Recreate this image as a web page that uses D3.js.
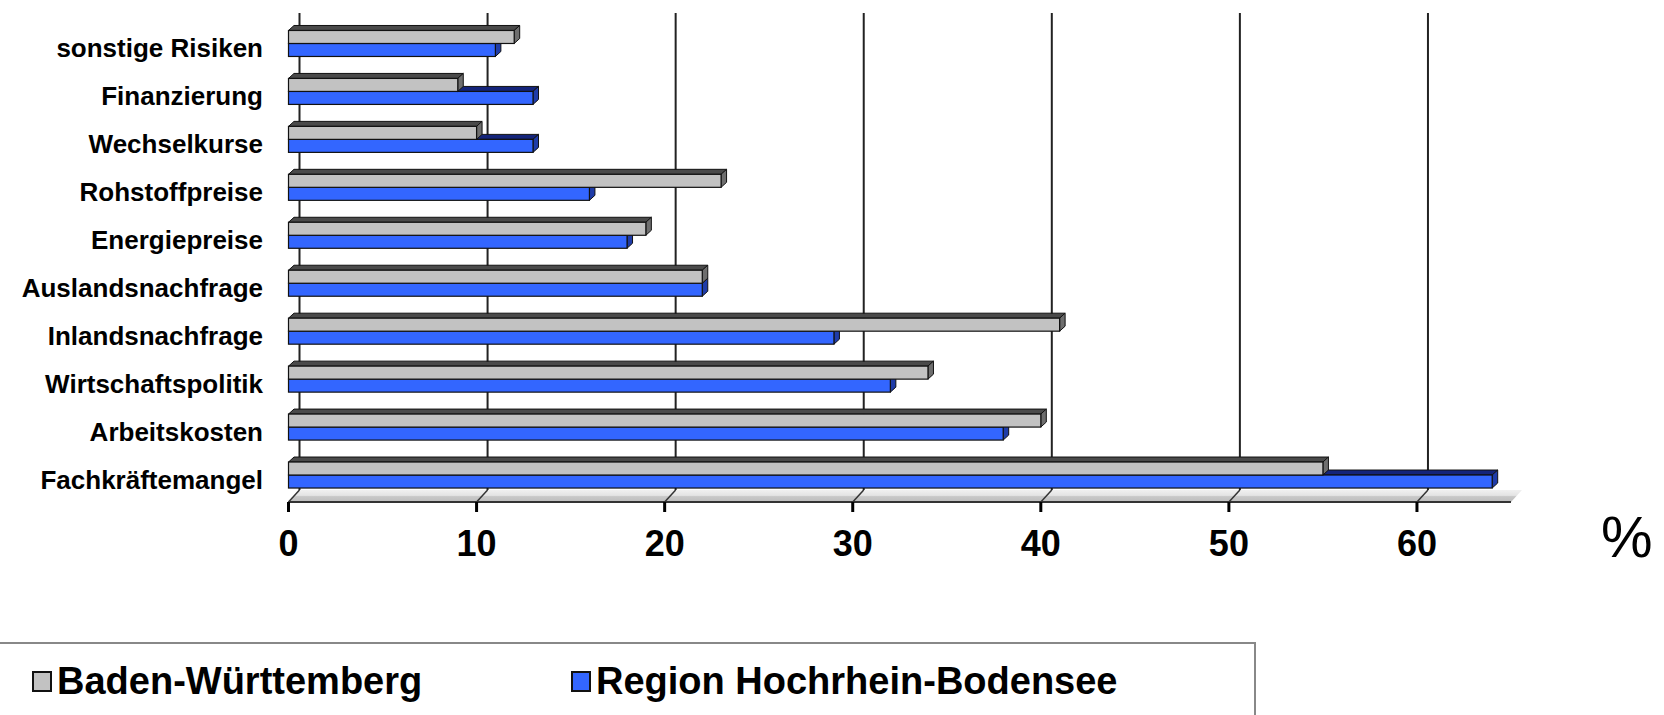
<!DOCTYPE html>
<html>
<head>
<meta charset="utf-8">
<script src="https://cdn.jsdelivr.net/npm/d3@7"></script>
<style>
  body { margin: 0; background: #fff; }
  svg { display: block; font-family: "Liberation Sans", Arial, sans-serif; }
</style>
</head>
<body>
<svg id="chart" width="1664" height="715"></svg>
<script>
// data (top to bottom)
const categories = ['sonstige Risiken', 'Finanzierung', 'Wechselkurse', 'Rohstoffpreise', 'Energiepreise',
  'Auslandsnachfrage', 'Inlandsnachfrage', 'Wirtschaftspolitik', 'Arbeitskosten', 'Fachkräftemangel'];
const series = ['Baden-Württemberg', 'Region Hochrhein-Bodensee'];
const bwValues = [12, 9, 10, 23, 19, 22, 41, 34, 40, 55];
const regionValues = [11, 13, 13, 16, 18, 22, 29, 32, 38, 64];
const xTicks = [0, 10, 20, 30, 40, 50, 60];
const unitLabel = '%';

const colors = {
  'Baden-Württemberg': { front: '#c2c2c2', top: '#4a4a4a', side: '#6e6e6e' },
  'Region Hochrhein-Bodensee': { front: '#3366ff', top: '#14247a', side: '#1f3ca8' }
};

const svg = d3.select('#chart');

// wall depth (back wall offset) and bar depth
const wall = { dx: 11, dy: 12 };
const bar = { dx: 5.5, dy: 5 };
const wallTop = 13;

const x = d3.scaleLinear().domain([0, 65]).range([288.5, 1511]);
const y = d3.scaleBand().domain(categories).range([19, 498.5]).paddingInner(0);
const ySub = d3.scaleBand().domain(series).range([-12.5, 13.5]);

const floorFront = 502;
const floorBack = floorFront - wall.dy;

// floor
const defs = svg.append('defs');
const grad = defs.append('linearGradient')
  .attr('id', 'floorGrad').attr('x1', 0).attr('y1', 0).attr('x2', 0).attr('y2', 1);
grad.append('stop').attr('offset', '0%').attr('stop-color', '#f0f0f0');
grad.append('stop').attr('offset', '45%').attr('stop-color', '#e4e4e4');
grad.append('stop').attr('offset', '55%').attr('stop-color', '#c8c8c8');
grad.append('stop').attr('offset', '100%').attr('stop-color', '#bdbdbd');

const [x0, x1] = x.range();
svg.append('path')
  .attr('d', `M${x0},${floorFront} L${x0 + wall.dx},${floorBack} L${x1 + wall.dx},${floorBack} L${x1},${floorFront} Z`)
  .attr('fill', 'url(#floorGrad)');
svg.append('line')
  .attr('x1', x0).attr('x2', x1)
  .attr('y1', floorFront).attr('y2', floorFront)
  .attr('stroke', '#333').attr('stroke-width', 2);

// back wall gridlines
svg.append('g')
  .selectAll('line')
  .data(xTicks)
  .join('line')
  .attr('x1', d => x(d) + wall.dx).attr('x2', d => x(d) + wall.dx)
  .attr('y1', wallTop).attr('y2', floorBack)
  .attr('stroke', '#222').attr('stroke-width', 2);

// slanted floor lines + ticks
svg.append('g')
  .selectAll('line')
  .data(xTicks)
  .join('line')
  .attr('x1', d => x(d)).attr('x2', d => x(d) + wall.dx)
  .attr('y1', floorFront).attr('y2', floorBack)
  .attr('stroke', '#333').attr('stroke-width', 1.5);

svg.append('g')
  .selectAll('line')
  .data(xTicks)
  .join('line')
  .attr('x1', d => x(d)).attr('x2', d => x(d))
  .attr('y1', floorFront).attr('y2', floorFront + 10)
  .attr('stroke', '#000').attr('stroke-width', 3);

// 3D bars
function drawBar(g, cat, s, v) {
  const c = colors[s];
  const xa = x(0), xb = x(v);
  const ya = y(cat) + y.bandwidth() / 2 + ySub(s);
  const yb = ya + ySub.bandwidth();
  g.append('path')
    .attr('d', `M${xa},${ya} L${xa + bar.dx},${ya - bar.dy} L${xb + bar.dx},${ya - bar.dy} L${xb},${ya} Z`)
    .attr('fill', c.top).attr('stroke', '#111').attr('stroke-width', 1);
  g.append('path')
    .attr('d', `M${xb},${ya} L${xb + bar.dx},${ya - bar.dy} L${xb + bar.dx},${yb - bar.dy} L${xb},${yb} Z`)
    .attr('fill', c.side).attr('stroke', '#111').attr('stroke-width', 1);
  g.append('rect')
    .attr('x', xa).attr('y', ya)
    .attr('width', xb - xa).attr('height', yb - ya)
    .attr('fill', c.front).attr('stroke', '#111').attr('stroke-width', 1.2);
}

const bars = svg.append('g');
categories.forEach((cat, i) => {
  // draw lower (blue) bar first so the grey one covers its top face
  drawBar(bars, cat, series[1], regionValues[i]);
  drawBar(bars, cat, series[0], bwValues[i]);
});

// category labels
svg.append('g')
  .selectAll('text')
  .data(categories)
  .join('text')
  .attr('x', 263)
  .attr('y', d => y(d) + y.bandwidth() / 2 + 5)
  .attr('dy', '0.35em')
  .attr('text-anchor', 'end')
  .attr('font-size', 26)
  .attr('font-weight', 'bold')
  .attr('fill', '#000')
  .text(d => d);

// x tick labels
svg.append('g')
  .selectAll('text')
  .data(xTicks)
  .join('text')
  .attr('x', d => x(d))
  .attr('y', 556)
  .attr('text-anchor', 'middle')
  .attr('font-size', 36)
  .attr('font-weight', 'bold')
  .attr('fill', '#000')
  .text(d => d);

svg.append('text')
  .attr('x', 1601).attr('y', 557)
  .attr('font-size', 58)
  .attr('fill', '#000')
  .text(unitLabel);

// legend
const legend = svg.append('g');
legend.append('path')
  .attr('d', 'M0,643 L1255,643 L1255,715')
  .attr('fill', 'none').attr('stroke', '#888').attr('stroke-width', 2);

const legendX = [32, 571];
const legendItem = legend.selectAll('g.item')
  .data(series)
  .join('g')
  .attr('class', 'item')
  .attr('transform', (d, i) => `translate(${legendX[i]},0)`);

legendItem.append('rect')
  .attr('x', 1).attr('y', 672)
  .attr('width', 18).attr('height', 19)
  .attr('fill', d => colors[d].front)
  .attr('stroke', '#111').attr('stroke-width', 2);

legendItem.append('text')
  .attr('x', 25).attr('y', 694)
  .attr('font-size', 38)
  .attr('font-weight', 'bold')
  .attr('fill', '#000')
  .text(d => d);
</script>
</body>
</html>
